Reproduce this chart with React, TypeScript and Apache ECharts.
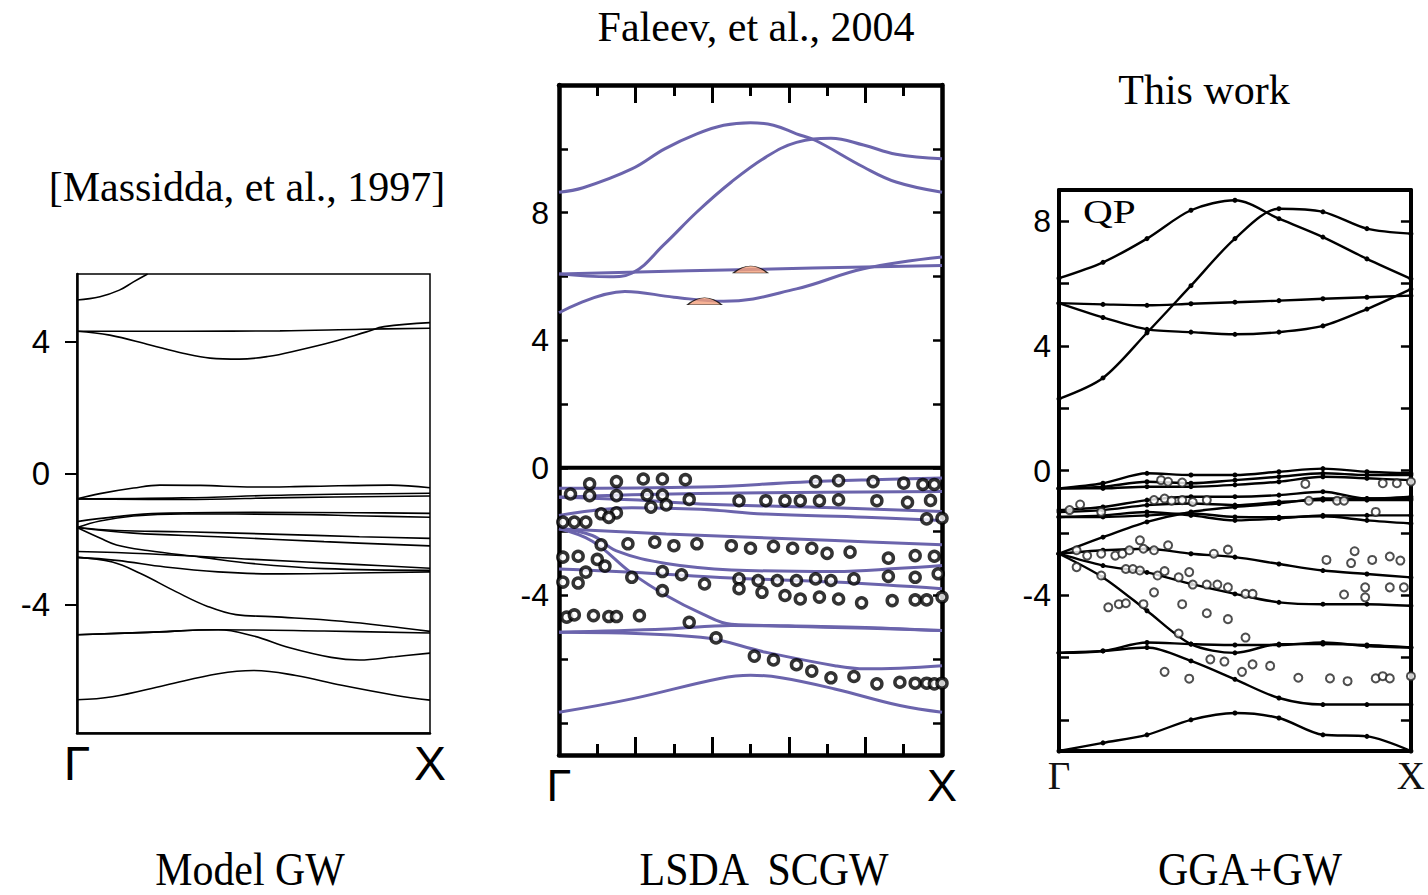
import React, { useEffect, useRef } from "react";
import * as echarts from "echarts";

// ---------- Labels ----------
const kPointLabels = ["Γ", "X"];
const panelTitles = ["[Massidda, et al., 1997]", "Faleev, et al., 2004", "This work"];
const panelMethods = ["Model GW", "LSDA  SCGW", "GGA+GW"];
const panel1YTicks = [-4, 0, 4];
const panel2YTicks = [-8, -6, -4, -2, 0, 2, 4, 6, 8, 10];
const panel2YLabels = [-4, 0, 4, 8];
const panel3YTicks = [-8, -6, -4, -2, 0, 2, 4, 6, 8];
const panel3YLabels = [-4, 0, 4, 8];

// ---------- Panel 1: Model GW (Massidda 1997) ----------
const massiddaBands: number[][][] = [
  [[0, 5.27], [0.065, 5.37], [0.12, 5.57], [0.16, 5.82], [0.2, 6.06]],
  [[0, 4.32], [0.3, 4.32], [0.575, 4.33], [0.81, 4.38], [1, 4.41]],
  [[0, 4.32], [0.093, 4.2], [0.207, 3.9], [0.3, 3.65], [0.377, 3.5], [0.46, 3.47], [0.54, 3.55], [0.63, 3.75], [0.725, 4.0], [0.82, 4.3], [0.87, 4.46], [1, 4.58]],
  [[0, -0.78], [0.065, -0.62], [0.16, -0.45], [0.235, -0.36], [0.35, -0.37], [0.5, -0.42], [0.65, -0.4], [0.887, -0.36], [1, -0.44]],
  [[0, -0.78], [0.3, -0.75], [0.6, -0.66], [1, -0.61]],
  [[0, -0.78], [0.3, -0.8], [0.6, -0.74], [1, -0.69]],
  [[0, -1.47], [0.112, -1.32], [0.235, -1.22], [0.5, -1.19], [0.8, -1.2], [1, -1.22]],
  [[0, -1.65], [0.065, -1.45], [0.16, -1.3], [0.3, -1.24], [0.6, -1.25], [0.82, -1.3], [1, -1.34]],
  [[0, -1.65], [0.112, -1.74], [0.3, -1.78], [0.55, -1.85], [0.8, -1.93], [1, -1.98]],
  [[0, -1.65], [0.16, -1.82], [0.4, -1.93], [0.7, -2.08], [1, -2.21]],
  [[0, -1.65], [0.065, -1.97], [0.112, -2.18], [0.2, -2.35], [0.35, -2.55], [0.5, -2.75], [0.7, -2.9], [1, -2.95]],
  [[0, -2.38], [0.2, -2.45], [0.5, -2.62], [0.8, -2.78], [1, -2.89]],
  [[0, -2.56], [0.112, -2.65], [0.25, -2.85], [0.4, -3.0], [0.55, -3.06], [0.75, -3.04], [1, -3.0]],
  [[0, -2.56], [0.1, -2.7], [0.18, -3.05], [0.28, -3.6], [0.37, -4.05], [0.45, -4.3], [0.55, -4.36], [0.75, -4.5], [1, -4.81]],
  [[0, -4.91], [0.2, -4.84], [0.4, -4.76], [0.7, -4.8], [1, -4.86]],
  [[0, -4.91], [0.2, -4.84], [0.4, -4.76], [0.5, -4.95], [0.6, -5.3], [0.72, -5.6], [0.8, -5.68], [0.9, -5.58], [1, -5.47]],
  [[0, -6.89], [0.1, -6.8], [0.25, -6.45], [0.4, -6.1], [0.5, -6.0], [0.62, -6.15], [0.75, -6.45], [0.9, -6.75], [1, -6.9]],
];

// ---------- Panel 2: LSDA SCGW (Faleev 2004) ----------
const faleevBands: number[][][] = [
  [[0, 8.64], [0.063, 8.78], [0.19, 9.37], [0.276, 10.0], [0.36, 10.47], [0.43, 10.74], [0.5, 10.82], [0.56, 10.74], [0.62, 10.47], [0.67, 10.26], [0.795, 9.43], [0.88, 8.96], [1, 8.64]],
  [[0, 6.08], [0.133, 5.99], [0.19, 6.1], [0.276, 7.02], [0.36, 8.02], [0.45, 8.96], [0.54, 9.74], [0.62, 10.2], [0.71, 10.33], [0.795, 10.12], [0.88, 9.83], [1, 9.69]],
  [[0, 6.08], [0.5, 6.22], [1, 6.34]],
  [[0, 4.86], [0.172, 5.53], [0.3, 5.35], [0.43, 5.22], [0.62, 5.61], [0.795, 6.24], [1, 6.61]],
  [[0, -0.64], [0.37, -0.6], [0.63, -0.45], [0.8, -0.38], [1, -0.32]],
  [[0, -0.92], [0.19, -0.84], [0.54, -0.78], [1, -0.74]],
  [[0, -0.92], [0.19, -1.0], [0.37, -1.13], [0.72, -1.25], [1, -1.37]],
  [[0, -1.49], [0.19, -1.25], [0.37, -1.3], [0.54, -1.45], [0.8, -1.55], [1, -1.65]],
  [[0, -1.91], [0.28, -2.07], [0.72, -2.28], [1, -2.41]],
  [[0, -1.91], [0.087, -2.12], [0.15, -2.6], [0.28, -3.0], [0.45, -3.2], [0.72, -3.25], [0.89, -3.15], [1, -3.06]],
  [[0, -1.91], [0.087, -2.3], [0.19, -3.3], [0.28, -4.0], [0.37, -4.55], [0.45, -4.9], [0.6, -4.95], [0.8, -5.0], [1, -5.1]],
  [[0, -3.17], [0.19, -3.27], [0.45, -3.45], [0.72, -3.58], [1, -3.79]],
  [[0, -5.15], [0.28, -5.05], [0.45, -4.94], [0.72, -5.0], [1, -5.1]],
  [[0, -5.15], [0.37, -5.31], [0.54, -5.78], [0.72, -6.2], [0.8, -6.3], [1, -6.2]],
  [[0, -7.66], [0.19, -7.24], [0.42, -6.6], [0.5, -6.5], [0.58, -6.58], [0.72, -6.93], [0.89, -7.45], [1, -7.66]],
];
const faleevFermi = [[0, 0], [1, 0]];
const faleevExperiment = [
  [0.03, -0.82], [0.08, -0.5], [0.08, -0.87], [0.15, -0.43], [0.15, -0.87], [0.22, -0.35], [0.27, -0.35], [0.33, -0.37],
  [0.23, -0.85], [0.27, -0.85], [0.24, -1.23], [0.28, -1.16], [0.34, -0.99], [0.67, -0.43], [0.73, -0.4], [0.82, -0.43],
  [0.9, -0.48], [0.95, -0.52], [0.98, -0.52], [0.47, -1.03], [0.54, -1.03], [0.59, -1.03], [0.63, -1.03], [0.68, -1.03],
  [0.73, -1.0], [0.83, -1.03], [0.91, -1.08], [0.97, -1.02], [0.11, -1.44], [0.15, -1.41], [0.13, -1.55], [0.01, -1.7],
  [0.04, -1.7], [0.07, -1.7], [0.96, -1.6], [1.0, -1.58], [0.11, -2.41], [0.18, -2.38], [0.25, -2.33], [0.3, -2.44],
  [0.36, -2.38], [0.45, -2.44], [0.5, -2.52], [0.56, -2.46], [0.61, -2.52], [0.66, -2.52], [0.7, -2.68], [0.76, -2.64],
  [0.86, -2.83], [0.93, -2.75], [0.98, -2.77], [0.01, -2.8], [0.05, -2.77], [0.1, -2.87], [0.12, -3.08], [0.01, -3.58],
  [0.05, -3.61], [0.07, -3.27], [0.19, -3.43], [0.27, -3.25], [0.32, -3.35], [0.38, -3.64], [0.27, -3.85], [0.47, -3.48],
  [0.52, -3.53], [0.57, -3.53], [0.62, -3.53], [0.67, -3.48], [0.71, -3.53], [0.77, -3.48], [0.86, -3.4], [0.93, -3.43],
  [0.99, -3.32], [0.47, -3.79], [0.53, -3.9], [0.59, -4.0], [0.63, -4.11], [0.68, -4.05], [0.73, -4.11], [0.79, -4.23],
  [0.87, -4.16], [0.93, -4.14], [0.96, -4.14], [1.0, -4.05], [0.02, -4.68], [0.04, -4.61], [0.09, -4.63], [0.13, -4.66],
  [0.15, -4.66], [0.21, -4.63], [0.34, -4.84], [0.41, -5.33], [0.51, -5.9], [0.56, -6.02], [0.62, -6.17], [0.66, -6.37],
  [0.71, -6.58], [0.77, -6.54], [0.83, -6.77], [0.89, -6.72], [0.93, -6.75], [0.96, -6.75], [0.98, -6.77], [1.0, -6.75],
];
const faleevWeightMarks = [[0.5, 6.22], [0.38, 5.22]];

// ---------- Panel 3: GGA+GW (this work) ----------
const kNodes = [0, 0.125, 0.25, 0.375, 0.5, 0.625, 0.75, 0.875, 1];
const thisWorkBands: number[][] = [
  [6.17, 6.68, 7.44, 8.35, 8.67, 8.08, 7.49, 6.79, 6.15],
  [2.3, 2.97, 4.42, 5.93, 7.44, 8.4, 8.3, 7.76, 7.6],
  [5.37, 5.33, 5.3, 5.35, 5.4, 5.45, 5.51, 5.56, 5.61],
  [5.37, 4.91, 4.53, 4.44, 4.37, 4.44, 4.64, 5.18, 5.82],
  [-0.575, -0.41, -0.09, -0.145, -0.145, -0.04, 0.06, -0.04, -0.09],
  [-0.575, -0.52, -0.36, -0.41, -0.31, -0.2, -0.09, -0.145, -0.145],
  [-0.575, -0.575, -0.52, -0.52, -0.46, -0.36, -0.2, -0.25, -0.31],
  [-1.27, -1.17, -0.95, -0.84, -0.84, -0.79, -0.68, -0.9, -0.9],
  [-1.33, -1.27, -1.11, -1.06, -1.11, -1.01, -0.95, -0.95, -0.95],
  [-1.49, -1.44, -1.33, -1.44, -1.6, -1.54, -1.44, -1.44, -1.44],
  [-1.49, -1.49, -1.44, -1.38, -1.49, -1.5, -1.47, -1.6, -1.7],
  [-2.67, -2.14, -1.65, -1.33, -1.17, -1.06, -0.9, -0.9, -0.84],
  [-2.67, -2.56, -2.51, -2.67, -2.78, -3.0, -3.21, -3.32, -3.43],
  [-2.67, -3.05, -3.27, -3.64, -3.96, -4.23, -4.29, -4.29, -4.34],
  [-2.67, -3.43, -4.5, -5.57, -5.85, -5.57, -5.57, -5.6, -5.68],
  [-5.85, -5.79, -5.52, -5.57, -5.6, -5.6, -5.52, -5.63, -5.68],
  [-5.85, -5.79, -5.68, -6.11, -6.7, -7.3, -7.51, -7.51, -7.51],
  [-9.0, -8.74, -8.48, -8.0, -7.78, -7.94, -8.48, -8.53, -9.0],
];
const thisWorkExperiment = [
  [0.7, -0.43], [0.92, -0.41], [0.96, -0.41], [1.0, -0.36], [0.29, -0.31], [0.31, -0.36], [0.35, -0.39],
  [0.06, -1.09], [0.03, -1.27], [0.12, -1.33], [0.27, -0.95], [0.3, -0.9], [0.32, -0.97], [0.35, -0.95],
  [0.38, -1.01], [0.42, -0.95], [0.71, -0.97], [0.79, -0.97], [0.81, -0.97], [0.9, -1.33],
  [0.05, -2.56], [0.08, -2.73], [0.12, -2.67], [0.16, -2.73], [0.18, -2.67], [0.2, -2.56], [0.23, -2.24],
  [0.24, -2.51], [0.27, -2.56], [0.31, -2.4], [0.44, -2.67], [0.48, -2.54], [0.76, -2.87], [0.84, -2.59],
  [0.83, -2.97], [0.89, -2.87], [0.94, -2.76], [0.97, -2.89], [0.19, -3.16], [0.21, -3.16], [0.23, -3.21],
  [0.28, -3.37], [0.3, -3.23], [0.34, -3.43], [0.37, -3.26], [0.38, -3.66], [0.42, -3.66], [0.45, -3.66],
  [0.48, -3.75], [0.53, -3.96], [0.55, -3.96], [0.81, -3.98], [0.87, -4.07], [0.87, -3.75], [0.94, -3.75],
  [0.98, -3.75], [0.05, -3.1], [0.12, -3.37], [0.14, -4.39], [0.17, -4.29], [0.19, -4.26], [0.24, -4.29],
  [0.27, -3.91], [0.35, -4.29], [0.42, -4.58], [0.48, -4.77], [0.34, -5.23], [0.53, -5.36], [0.43, -6.06],
  [0.47, -6.13], [0.52, -6.46], [0.55, -6.22], [0.6, -6.27], [0.68, -6.65], [0.77, -6.67], [0.82, -6.76],
  [0.9, -6.67], [0.92, -6.6], [0.94, -6.67], [1.0, -6.6], [0.3, -6.46], [0.37, -6.68],
];

const SANS = "Liberation Sans";
const SERIF = "Liberation Serif";
const PURPLE = "#6b64ac";

export default function App() {
  const ref = useRef<HTMLDivElement>(null);
  useEffect(() => {
    if (!ref.current) return;
    const chart = echarts.init(ref.current, null, { renderer: "svg" });
    const kFmt = (v: number) => (v === 0 ? kPointLabels[0] : kPointLabels[1]);

    const series: any[] = [];
    massiddaBands.forEach((band) =>
      series.push({
        type: "line", xAxisIndex: 0, yAxisIndex: 0, data: band, smooth: 0.4,
        symbol: "none", lineStyle: { color: "#000", width: 1.6 }, silent: true,
      })
    );
    faleevBands.forEach((band) =>
      series.push({
        type: "line", xAxisIndex: 1, yAxisIndex: 1, data: band, smooth: 0.4,
        symbol: "none", lineStyle: { color: PURPLE, width: 3 }, silent: true,
      })
    );
    series.push({
      type: "line", xAxisIndex: 1, yAxisIndex: 1, data: faleevFermi,
      symbol: "none", lineStyle: { color: "#000", width: 4 }, silent: true,
    });
    series.push({
      type: "scatter", xAxisIndex: 1, yAxisIndex: 1, data: faleevWeightMarks,
      symbol: "path://M0,10 Q20,0 40,10 Z", symbolSize: [34, 7],
      itemStyle: { color: "#f4a07c", borderColor: "#000", borderWidth: 1 }, z: 4, silent: true,
    });
    series.push({
      type: "scatter", xAxisIndex: 1, yAxisIndex: 1, data: faleevExperiment,
      symbol: "circle", symbolSize: 10,
      itemStyle: { color: "#fff", borderColor: "#000", borderWidth: 3.5 }, z: 5, silent: true,
    });
    thisWorkBands.forEach((band) =>
      series.push({
        type: "line", xAxisIndex: 3, yAxisIndex: 3,
        data: band.map((v, i) => [kNodes[i], v]), smooth: 0.3,
        symbol: "circle", symbolSize: 5, showSymbol: true,
        itemStyle: { color: "#000" }, lineStyle: { color: "#000", width: 2.4 }, silent: true,
      })
    );
    series.push({
      type: "scatter", xAxisIndex: 3, yAxisIndex: 3, data: thisWorkExperiment,
      symbol: "circle", symbolSize: 8,
      itemStyle: { color: "#fff", borderColor: "#222", borderWidth: 2 }, z: 5, silent: true,
    });

    const noSplit = { show: false };
    const blackLine = (w: number) => ({ show: true, onZero: false, lineStyle: { color: "#000", width: w } });
    const textStyle = (text: string, font: string, align = "center") => ({
      text, font, fill: "#000", align, verticalAlign: "middle", textAlign: align, textVerticalAlign: "middle",
    });

    const option: any = {
      animation: false,
      backgroundColor: "#fff",
      grid: [
        { left: 77, top: 274, width: 353, height: 459, show: true, borderColor: "#000", borderWidth: 1.5, backgroundColor: "transparent" },
        { left: 559, top: 85, width: 383, height: 670 },
        { left: 1059, top: 190, width: 354, height: 561 },
      ],
      xAxis: [
        {
          gridIndex: 0, type: "value", min: 0, max: 1, position: "bottom",
          axisLine: blackLine(2.5), axisTick: { show: false }, splitLine: noSplit,
          axisLabel: { customValues: [0, 1], formatter: kFmt, margin: 6, fontSize: 48, fontFamily: SANS, color: "#000" },
        },
        {
          gridIndex: 1, type: "value", min: 0, max: 1, interval: 0.2, position: "bottom",
          axisLine: blackLine(4.5),
          axisTick: { show: true, inside: true, length: 18, lineStyle: { color: "#000", width: 3 } },
          minorTick: { show: true, splitNumber: 2, length: 11, lineStyle: { color: "#000", width: 3 } },
          splitLine: noSplit, minorSplitLine: noSplit,
          axisLabel: { customValues: [0, 1], formatter: kFmt, margin: 8, fontSize: 45, fontFamily: SANS, color: "#000" },
        },
        {
          gridIndex: 1, type: "value", min: 0, max: 1, interval: 0.2, position: "top",
          axisLine: blackLine(4.5),
          axisTick: { show: true, inside: true, length: 18, lineStyle: { color: "#000", width: 3 } },
          minorTick: { show: true, splitNumber: 2, length: 11, lineStyle: { color: "#000", width: 3 } },
          splitLine: noSplit, minorSplitLine: noSplit, axisLabel: { show: false },
        },
        {
          gridIndex: 2, type: "value", min: 0, max: 1, position: "bottom",
          axisLine: blackLine(4), axisTick: { show: false }, splitLine: noSplit,
          axisLabel: { customValues: [0, 1], formatter: kFmt, margin: 5, fontSize: 39, fontFamily: SERIF, color: "#111" },
        },
        {
          gridIndex: 2, type: "value", min: 0, max: 1, position: "top",
          axisLine: blackLine(4), axisTick: { show: false }, splitLine: noSplit, axisLabel: { show: false },
        },
      ],
      yAxis: [
        {
          gridIndex: 0, type: "value", min: -7.9, max: 6.06, position: "left",
          axisLine: blackLine(2.5),
          axisTick: { show: true, inside: false, length: 12, customValues: panel1YTicks, lineStyle: { color: "#000", width: 2 } },
          splitLine: noSplit,
          axisLabel: { customValues: panel1YTicks, margin: 27, fontSize: 33, fontFamily: SANS, color: "#000" },
        },
        {
          gridIndex: 1, type: "value", min: -9, max: 12, position: "left",
          axisLine: blackLine(4.5),
          axisTick: { show: true, inside: true, length: 9, customValues: panel2YTicks, lineStyle: { color: "#000", width: 2.5 } },
          splitLine: noSplit,
          axisLabel: { customValues: panel2YLabels, margin: 10, fontSize: 32, fontFamily: SANS, color: "#000" },
        },
        {
          gridIndex: 1, type: "value", min: -9, max: 12, position: "right",
          axisLine: blackLine(4.5),
          axisTick: { show: true, inside: true, length: 9, customValues: panel2YTicks, lineStyle: { color: "#000", width: 2.5 } },
          splitLine: noSplit, axisLabel: { show: false },
        },
        {
          gridIndex: 2, type: "value", min: -9, max: 9, position: "left",
          axisLine: blackLine(4),
          axisTick: { show: true, inside: true, length: 10, customValues: panel3YTicks, lineStyle: { color: "#000", width: 2.5 } },
          splitLine: noSplit,
          axisLabel: { customValues: panel3YLabels, margin: 8, fontSize: 32, fontFamily: SANS, color: "#000" },
        },
        {
          gridIndex: 2, type: "value", min: -9, max: 9, position: "right",
          axisLine: blackLine(4),
          axisTick: { show: true, inside: true, length: 10, customValues: panel3YTicks, lineStyle: { color: "#000", width: 2.5 } },
          splitLine: noSplit, axisLabel: { show: false },
        },
      ],
      graphic: [
        { type: "text", x: 247, y: 187, style: textStyle(panelTitles[0], `42px "${SERIF}"`) },
        { type: "text", x: 756, y: 27, style: textStyle(panelTitles[1], `42px "${SERIF}"`) },
        { type: "text", x: 1204, y: 90, style: textStyle(panelTitles[2], `42px "${SERIF}"`) },
        { type: "text", x: 250, y: 870, scaleX: 0.91, style: textStyle(panelMethods[0], `46px "${SERIF}"`) },
        { type: "text", x: 764, y: 870, scaleX: 0.91, style: textStyle(panelMethods[1], `46px "${SERIF}"`) },
        { type: "text", x: 1250, y: 870, scaleX: 0.91, style: textStyle(panelMethods[2], `46px "${SERIF}"`) },
        { type: "text", x: 1083, y: 212, scaleX: 1.25, z: 10, style: textStyle("QP", `33px "${SERIF}"`, "left") },
      ],
      series,
    };
    chart.setOption(option);
    return () => chart.dispose();
  }, []);

  return (
    <div
      ref={ref}
      style={{ position: "fixed", left: 0, top: 0, width: 1428, height: 895, background: "#fff" }}
    />
  );
}
